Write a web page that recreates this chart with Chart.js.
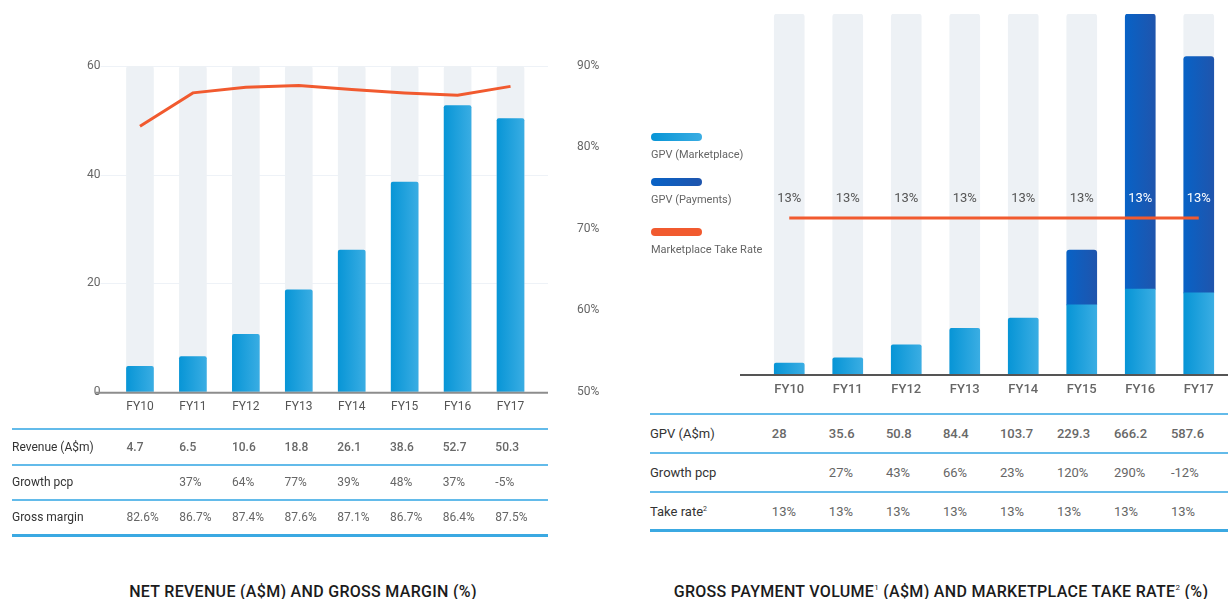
<!DOCTYPE html>
<html>
<head>
<meta charset="utf-8">
<script src="https://cdn.jsdelivr.net/npm/chart.js@4.4.1/dist/chart.umd.min.js"></script>
<style>
  body{margin:0;background:#fff;font-family:Roboto,Arial,sans-serif;}
  #page{position:relative;width:1228px;height:599px;overflow:hidden;}
  .abs{position:absolute;}
  .tbl{position:absolute;border-top:2px solid #63bbea;}
  .row{display:flex;align-items:center;border-bottom:2px solid #63bbea;box-sizing:border-box;}
  .row:last-child{border-bottom:3px solid #3ba9e2;}
  .row div{font-size:12px;color:#666;white-space:nowrap;}
  #gpvTable .row div{font-size:13px;}
  .row div.lab{color:#333;}
  .row div.strong{color:#686868;font-weight:500;}
  .row sup{font-size:7px;vertical-align:5px;}
  .legend .sw{position:absolute;width:51px;height:8px;border-radius:4px;}
  .legend .lt{position:absolute;font-size:11px;color:#666;line-height:14px;}
  .title{position:absolute;top:582px;font-size:16px;font-weight:500;color:#1b1b1b;letter-spacing:0.3px;transform:translateX(-50%);white-space:nowrap;}
  .title sup{font-size:8px;vertical-align:7px;font-weight:400;}
</style>
</head>
<body>
<div id="page">
  <div class="abs" style="left:0;top:0;width:620px;height:439px"><canvas id="revChart" width="620" height="439"></canvas></div>
  <div class="abs" style="left:620px;top:0;width:608px;height:400px"><canvas id="gpvChart" width="608" height="400"></canvas></div>
  <div class="legend" id="gpvLegend"></div>
  <div class="tbl" id="revTable" style="left:12px;top:428px;width:536px"></div>
  <div class="tbl" id="gpvTable" style="left:650px;top:413px;width:578px"></div>
  <div class="title" style="left:303px">NET REVENUE (A$M) AND GROSS MARGIN (%)</div>
  <div class="title" style="left:941px">GROSS PAYMENT VOLUME<sup>1</sup> (A$M) AND MARKETPLACE TAKE RATE<sup>2</sup> (%)</div>
</div>
<script>
const YEARS = ['FY10','FY11','FY12','FY13','FY14','FY15','FY16','FY17'];

// left: net revenue + gross margin
const revenue = [4.7, 6.5, 10.6, 18.8, 26.1, 38.6, 52.7, 50.3];
const revenueGrowth = ['', '37%', '64%', '77%', '39%', '48%', '37%', '-5%'];
const grossMargin = [82.6, 86.7, 87.4, 87.6, 87.1, 86.7, 86.4, 87.5];
const revenueTicks = [0, 20, 40, 60];
const marginTicks = [50, 60, 70, 80, 90];

// right: GPV split (bar heights) + take rate
const gpvMarketplace = [20, 30, 54, 84.4, 103.7, 128, 157, 150];
const gpvPayments = [null, null, null, null, null, 101.3, 509.2, 437.6];
const gpvTotal = [28, 35.6, 50.8, 84.4, 103.7, 229.3, 666.2, 587.6];
const gpvGrowth = ['', '27%', '43%', '66%', '23%', '120%', '290%', '-12%'];
const takeRate = [13, 13, 13, 13, 13, 13, 13, 13];
const gpvAxisMax = 666.2;
const takeRateAxisMax = 30;

const ORANGE = '#f15a2f';
const TRACK = '#edf1f5';
const LIGHT = ['#0795d6', '#3aade3'];
const DARK = ['#0862c6', '#1f55ad'];

Chart.defaults.font.family = 'Roboto, Arial, sans-serif';

function $(id){ return document.getElementById(id); }

// horizontal gradient across each bar
function barGrad(cols, half){
  return c => {
    const chart = c.chart;
    if (c.type !== 'data' || !chart.chartArea) return cols[0];
    const x = chart.scales.x.getPixelForValue(c.dataIndex);
    const g = chart.ctx.createLinearGradient(x - half, 0, x + half, 0);
    g.addColorStop(0, cols[0]);
    g.addColorStop(1, cols[1]);
    return g;
  };
}

// grid lines + base line that run past the plot area
const frameLines = {
  id: 'frameLines',
  beforeDatasetsDraw(chart, args, o){
    if (!o.gridScale) return;
    const {ctx, chartArea: a} = chart;
    const s = chart.scales[o.gridScale];
    ctx.save();
    ctx.strokeStyle = '#eef2f7';
    ctx.lineWidth = 1;
    s.ticks.forEach(t => {
      if (t.value === s.min) return;
      const y = Math.round(s.getPixelForValue(t.value)) + 0.5;
      ctx.beginPath(); ctx.moveTo(a.left - o.gridLeft, y); ctx.lineTo(a.right + o.gridRight, y); ctx.stroke();
    });
    ctx.restore();
  },
  afterDatasetsDraw(chart, args, o){
    const {ctx, chartArea: a} = chart;
    ctx.save();
    ctx.strokeStyle = o.axisColor;
    ctx.lineWidth = 2;
    ctx.beginPath(); ctx.moveTo(a.left - o.axisLeft, a.bottom + 1); ctx.lineTo(a.right + o.axisRight, a.bottom + 1); ctx.stroke();
    ctx.restore();
  }
};

// "13%" labels above the take-rate line
const rateLabels = {
  id: 'rateLabels',
  afterDatasetsDraw(chart, args, o){
    const {ctx} = chart;
    const meta = chart.getDatasetMeta(o.datasetIndex);
    const ys = chart.scales.y;
    ctx.save();
    ctx.font = '13px Roboto, Arial, sans-serif';
    ctx.textAlign = 'center';
    ctx.textBaseline = 'middle';
    meta.data.forEach((pt, i) => {
      const ty = pt.y - 19;
      const top = ys.getPixelForValue((gpvMarketplace[i] || 0) + (gpvPayments[i] || 0));
      ctx.fillStyle = top < ty - 8 ? '#ffffff' : '#555555';
      ctx.fillText(takeRate[i] + '%', pt.x, ty);
    });
    ctx.restore();
  }
};

new Chart($('revChart'), {
  data: {
    labels: YEARS,
    datasets: [
      { type: 'line', label: 'Gross margin', data: grossMargin, yAxisID: 'y1',
        borderColor: ORANGE, borderWidth: 3, pointRadius: 0, tension: 0, order: 0 },
      { type: 'bar', label: 'Revenue (A$m)', data: revenue, yAxisID: 'y',
        backgroundColor: barGrad(LIGHT, 14), barThickness: 27, grouped: false,
        borderRadius: { topLeft: 2, topRight: 2 }, borderSkipped: 'bottom', order: 1 },
      { type: 'bar', label: 'track', data: YEARS.map(() => revenueTicks[revenueTicks.length - 1]), yAxisID: 'y',
        backgroundColor: TRACK, barThickness: 27, grouped: false,
        borderRadius: { topLeft: 3, topRight: 3 }, borderSkipped: 'bottom', order: 2 }
    ]
  },
  options: {
    responsive: false,
    animation: false,
    devicePixelRatio: 1,
    layout: { padding: { top: 66, left: 0, right: 0, bottom: 0 } },
    plugins: {
      legend: { display: false },
      tooltip: { enabled: false },
      frameLines: { gridScale: 'y', gridLeft: 13, gridRight: 11, axisLeft: 18, axisRight: 11, axisColor: '#8d8d8d' }
    },
    scales: {
      x: {
        offset: true,
        grid: { display: false, drawTicks: false },
        border: { display: false },
        ticks: { color: '#555', font: { size: 12 }, padding: 8 },
        afterFit(s){ s.height = 33; }
      },
      y: {
        position: 'left', min: 0, max: 60,
        grid: { display: false, drawTicks: false },
        border: { display: false },
        ticks: { color: '#666', font: { size: 12 }, padding: 13 },
        afterBuildTicks(s){ s.ticks = revenueTicks.map(v => ({ value: v })); },
        afterFit(s){ s.width = 113.5; }
      },
      y1: {
        position: 'right', min: 50, max: 90,
        grid: { display: false, drawTicks: false },
        border: { display: false },
        ticks: { color: '#666', font: { size: 12 }, padding: 40, callback: v => v + '%' },
        afterBuildTicks(s){ s.ticks = marginTicks.map(v => ({ value: v })); },
        afterFit(s){ s.width = 83; }
      }
    }
  },
  plugins: [frameLines]
});

const gpvChart = new Chart($('gpvChart'), {
  data: {
    labels: YEARS,
    datasets: [
      { type: 'line', label: 'Marketplace Take Rate', data: takeRate, yAxisID: 'y2',
        borderColor: ORANGE, borderWidth: 3, pointRadius: 0, tension: 0, order: 0 },
      { type: 'bar', label: 'GPV (Marketplace)', data: gpvMarketplace, yAxisID: 'y', stack: 'gpv',
        backgroundColor: barGrad(LIGHT, 15), barThickness: 30, grouped: false,
        borderRadius: c => (gpvPayments[c.dataIndex] ? 0 : { topLeft: 2, topRight: 2 }),
        borderSkipped: 'bottom', order: 1 },
      { type: 'bar', label: 'GPV (Payments)', data: gpvPayments, yAxisID: 'y', stack: 'gpv',
        backgroundColor: barGrad(DARK, 15), barThickness: 30, grouped: false,
        borderRadius: { topLeft: 3, topRight: 3 }, borderSkipped: 'bottom', order: 1 },
      { type: 'bar', label: 'track', data: YEARS.map(() => gpvAxisMax), yAxisID: 'y', stack: 'track',
        backgroundColor: TRACK, barThickness: 30, grouped: false,
        borderRadius: { topLeft: 3, topRight: 3 }, borderSkipped: 'bottom', order: 2 }
    ]
  },
  options: {
    responsive: false,
    animation: false,
    devicePixelRatio: 1,
    layout: { padding: { top: 14, left: 140, right: 0, bottom: 0 } },
    plugins: {
      legend: { display: false },
      tooltip: { enabled: false },
      frameLines: { gridScale: null, axisLeft: 20, axisRight: 0, axisColor: '#555' },
      rateLabels: { datasetIndex: 0 }
    },
    scales: {
      x: {
        offset: true,
        grid: { display: false, drawTicks: false },
        border: { display: false },
        ticks: { color: '#666', font: { size: 13, weight: 500 }, padding: 8 },
        afterFit(s){ s.height = 26; }
      },
      y: { display: false, stacked: true, min: 0, max: gpvAxisMax },
      y2: { display: false, min: 0, max: takeRateAxisMax }
    }
  },
  plugins: [frameLines, rateLabels]
});

// legend (swatch above label)
const legendItems = [
  { label: gpvChart.data.datasets[1].label, bg: `linear-gradient(90deg, ${LIGHT[0]}, ${LIGHT[1]})`, top: 133 },
  { label: gpvChart.data.datasets[2].label, bg: `linear-gradient(90deg, ${DARK[0]}, ${DARK[1]})`, top: 178 },
  { label: gpvChart.data.datasets[0].label, bg: ORANGE, top: 228 }
];
$('gpvLegend').innerHTML = legendItems.map(it => `
  <div class="sw" style="left:651px;top:${it.top}px;background:${it.bg}"></div>
  <div class="lt" style="left:651px;top:${it.top + 15}px">${it.label}</div>`).join('');

// tables under the charts
function renderTable(id, labelW, colW, rowH, rows){
  $(id).innerHTML = rows.map(r => `
    <div class="row" style="height:${rowH}px">
      <div class="lab" style="width:${labelW}px">${r.label}</div>
      ${r.cells.map(v => `<div class="${r.strong ? 'strong' : ''}" style="width:${colW}px">${v}</div>`).join('')}
    </div>`).join('');
}

renderTable('revTable', 115, 52.9, 35.5, [
  { label: 'Revenue (A$m)', cells: revenue, strong: true },
  { label: 'Growth pcp', cells: revenueGrowth },
  { label: 'Gross margin', cells: grossMargin.map(v => v.toFixed(1) + '%') }
]);

renderTable('gpvTable', 125, 58.5, 39, [
  { label: 'GPV (A$m)', cells: gpvTotal, strong: true },
  { label: 'Growth pcp', cells: gpvGrowth },
  { label: 'Take rate<sup>2</sup>', cells: takeRate.map(v => v + '%') }
]);
</script>
</body>
</html>
